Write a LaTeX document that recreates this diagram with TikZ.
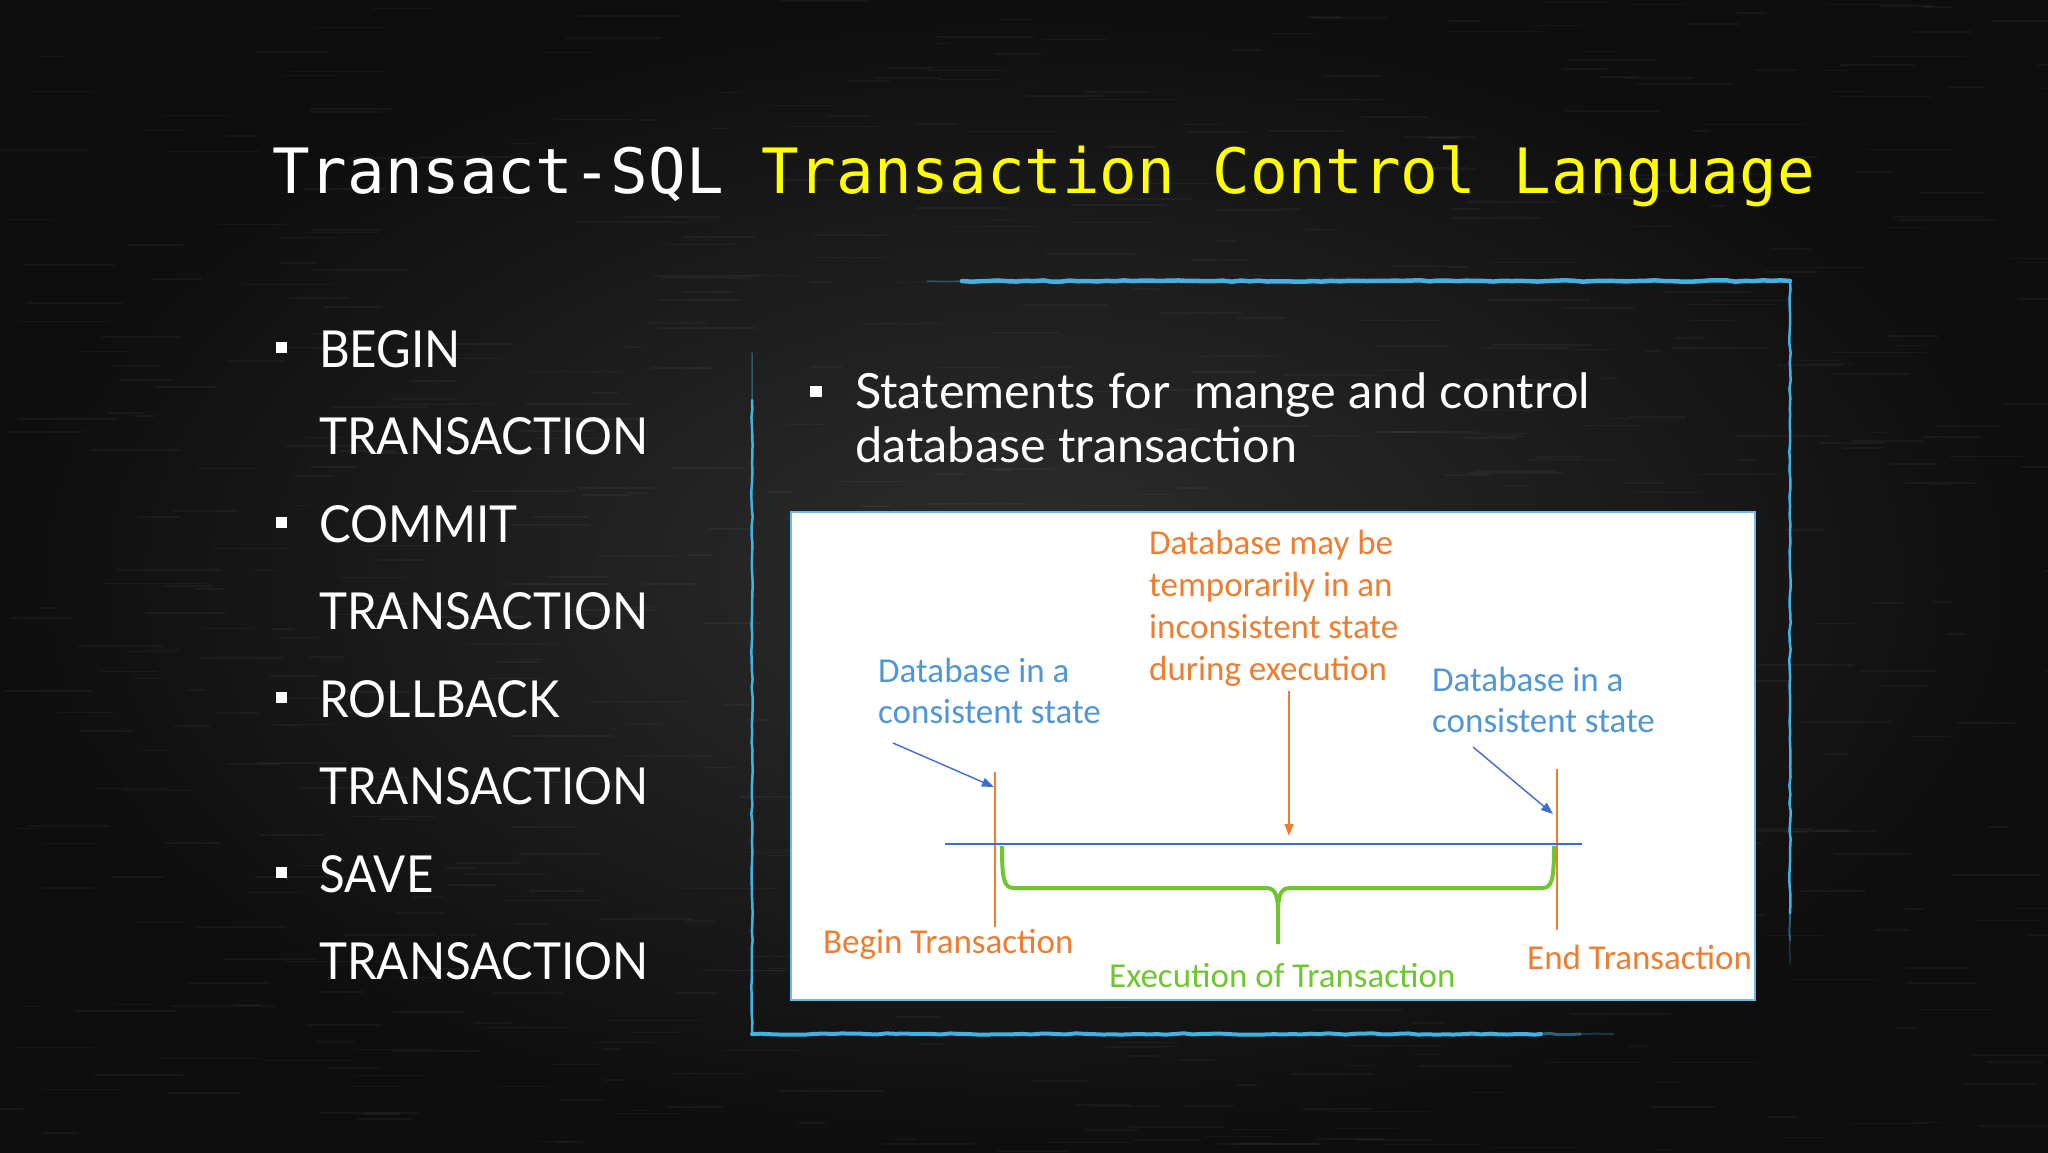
\documentclass[tikz,border=0pt]{standalone}
\usepackage{fontspec}
\usetikzlibrary{arrows.meta,decorations.pathmorphing}
\setmainfont{Carlito}
\newfontfamily\titlefont{DejaVu Sans Mono}
\newfontfamily\listfont[FakeStretch=0.93]{Lato}
\newfontfamily\stmtfont{Lato}
\newfontfamily\diagfont{Carlito}
\definecolor{bgin}{RGB}{46,46,46}
\definecolor{bgout}{RGB}{14,14,14}
\definecolor{tyellow}{RGB}{255,255,0}
\definecolor{frameC}{RGB}{66,178,226}
\definecolor{boxC}{RGB}{110,185,230}
\definecolor{orangeC}{RGB}{237,125,49}
\definecolor{blueT}{RGB}{80,150,215}
\definecolor{blueL}{RGB}{62,108,205}
\definecolor{greenC}{RGB}{112,198,48}
\tikzset{
  txt/.style={anchor=base west, inner sep=0pt},
  listtxt/.style={txt, text=white, font=\listfont\fontsize{51}{60}\selectfont},
  stmt/.style={txt, text=white, font=\stmtfont\fontsize{48.6}{56}\selectfont},
  lbl/.style={txt, font=\diagfont\fontsize{35}{42}\selectfont},
  chalk/.style={draw=frameC, line cap=round, decorate, decoration={random steps, segment length=9pt, amplitude=0.7pt}},
  arr/.style={line width=1.4pt, -{Triangle[length=12pt,width=9pt]}},
}
\begin{document}
\begin{tikzpicture}[x=1pt,y=-1pt]
\useasboundingbox (0,0) rectangle (2048,1152);
\shade[inner color=bgin, outer color=bgout] (0,0) rectangle (2048,1152);
% chalk texture
\pgfmathsetseed{7}
\foreach \i in {1,...,700}{
  \pgfmathsetmacro\xx{rnd*2048}
  \pgfmathsetmacro\yy{rnd*1152}
  \pgfmathsetmacro\ll{15+rnd*90}
  \draw[white, opacity=0.04, line width=1.6pt] (\xx,\yy) -- ++(\ll,0);
}
% title
\node[txt, text=white, font=\titlefont\fontsize{62.5}{70}\selectfont] (title) at (272,193)
  {Transact-SQL \textcolor{tyellow}{Transaction Control Language}};
% left list
\foreach \t/\y [count=\n] in {BEGIN/367, TRANSACTION/454, COMMIT/542, TRANSACTION/629, ROLLBACK/717, TRANSACTION/804, SAVE/892, TRANSACTION/979}{
  \node[listtxt] (l\n) at (319,\y) {\t};
}
\foreach \y in {367,542,717,892}{
  \fill[white] (276,{\y-25}) rectangle ++(11,11);
}
% frame
\draw[chalk, line width=1.5pt, opacity=0.35] (927,281) -- (962,281);
\draw[chalk, line width=4.5pt] (962,281) -- (1790,281);
\draw[chalk, line width=2.5pt] (1790,281) -- (1790,913);
\draw[chalk, line width=2pt, opacity=0.5] (1790,913) -- (1790,940);
\draw[chalk, line width=1.5pt, opacity=0.25] (1790,940) -- (1790,963);
\draw[chalk, line width=1.5pt, opacity=0.4] (752,353) -- (752,400);
\draw[chalk, line width=2.5pt] (752,400) -- (752,1034);
\draw[chalk, line width=4pt] (752,1034) -- (1541,1034);
\draw[chalk, line width=3pt, opacity=0.5] (1541,1034) -- (1580,1034);
\draw[chalk, line width=2pt, opacity=0.25] (1580,1034) -- (1613,1034);
% statement
\fill[white] (810,386) rectangle (822,397);
\node[stmt] (s1) at (855,408) {Statements for\ \ mange and control};
\node[stmt] (s2) at (855,462) {database transaction};
% diagram box
\node[draw=boxC, line width=2pt, fill=white, minimum width=964pt, minimum height=488pt, inner sep=0pt, anchor=north west] (box) at (790,511) {};
% labels
\node[lbl, text=orangeC] (m1) at (1149,554) {Database may be};
\node[lbl, text=orangeC] (m2) at (1149,596) {temporarily in an};
\node[lbl, text=orangeC] (m3) at (1149,638) {inconsistent state};
\node[lbl, text=orangeC] (m4) at (1149,680) {during execution};
\node[lbl, text=blueT] (a1) at (878,682) {Database in a};
\node[lbl, text=blueT] (a2) at (878,723) {consistent state};
\node[lbl, text=blueT] (b1) at (1432,691) {Database in a};
\node[lbl, text=blueT] (b2) at (1432,732) {consistent state};
\node[lbl, text=orangeC] (bt) at (823,953) {Begin Transaction};
\node[lbl, text=greenC] (et) at (1109,987) {Execution of Transaction};
\node[lbl, text=orangeC] (nt) at (1527,969) {End Transaction};
% coordinates
\coordinate (ov1a) at (995,772); \coordinate (ov1b) at (995,927);
\coordinate (ov2a) at (1557,769); \coordinate (ov2b) at (1557,930);
\coordinate (h1) at (945,844); \coordinate (h2) at (1582,844);
\coordinate (la1) at (893,743); \coordinate (la2) at (994,787);
\coordinate (ra1) at (1473,747); \coordinate (ra2) at (1553,814);
\coordinate (ma1) at (1289,691); \coordinate (ma2) at (1289,836);
\draw[orangeC, line width=1.4pt] (ov1a) -- (ov1b);
\draw[orangeC, line width=1.4pt] (ov2a) -- (ov2b);
\draw[blueL, line width=1.4pt] (h1) -- (h2);
\draw[arr, blueL] (la1) -- (la2);
\draw[arr, blueL] (ra1) -- (ra2);
\draw[arr, orangeC] (ma1) -- (ma2);
% brace
\draw[greenC, line width=4pt, line join=round]
  (1002,846) .. controls (1002,880) and (1004,888) .. (1014,888) -- (1266,888)
  .. controls (1276,888) and (1278,896) .. (1278,915) -- (1278,944);
\draw[greenC, line width=4pt, line join=round]
  (1278,915) .. controls (1278,896) and (1280,888) .. (1290,888) -- (1542,888)
  .. controls (1552,888) and (1554,880) .. (1554,846);
\end{tikzpicture}
\end{document}
